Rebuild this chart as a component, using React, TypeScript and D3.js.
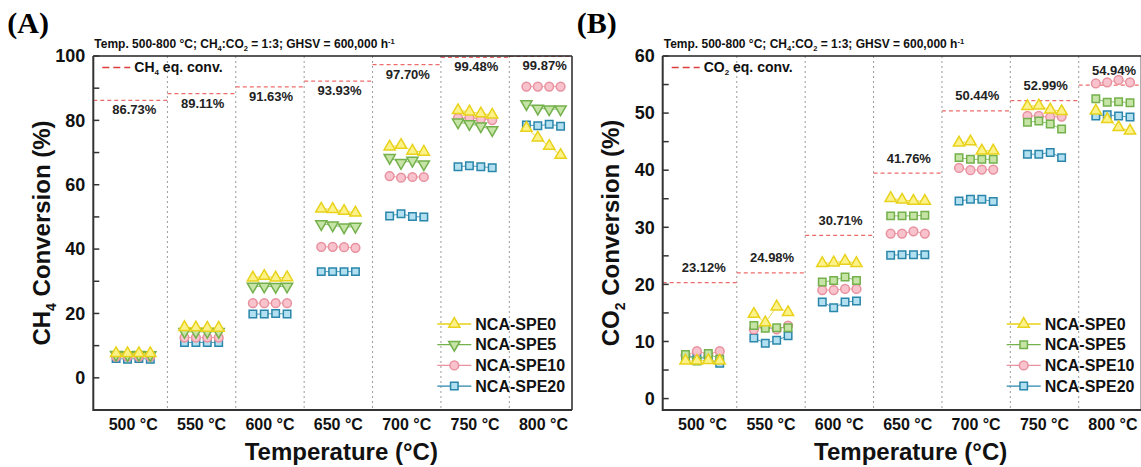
import React from 'react';
import * as d3 from 'd3';

const temps = ['500 °C', '550 °C', '600 °C', '650 °C', '700 °C', '750 °C', '800 °C'];
const seriesNames = ['NCA-SPE0', 'NCA-SPE5', 'NCA-SPE10', 'NCA-SPE20'];

// CH4 conversion, 4 points per temperature
const ch4Spe0 = [
  [7.6, 7.6, 7.6, 7.6], [15.7, 15.6, 15.5, 15.5], [31.1, 31.6, 31.1, 31.2], [52.5, 52.4, 51.8, 51.3],
  [71.8, 72.3, 70.5, 70.2], [83.1, 82.7, 82.1, 81.7], [77.6, 74.6, 72.0, 69.2],
];
const ch4Spe5 = [
  [7.2, 7.1, 7.2, 7.1], [14.3, 14.3, 14.3, 14.3], [28.4, 28.4, 28.3, 28.4], [47.8, 47.4, 46.8, 47.0],
  [68.4, 66.8, 67.5, 66.4], [79.4, 78.9, 78.2, 77.0], [85.1, 83.7, 83.5, 83.5],
];
const ch4Spe10 = [
  [6.6, 6.6, 6.6, 6.6], [12.5, 12.5, 12.5, 12.5], [23.2, 23.2, 23.2, 23.2], [40.7, 40.7, 40.6, 40.4],
  [62.7, 62.2, 62.4, 62.4], [80.8, 80.8, 80.4, 80.1], [90.5, 90.5, 90.5, 90.5],
];
const ch4Spe20 = [
  [6.0, 5.8, 6.0, 5.8], [11.0, 11.0, 11.0, 11.0], [19.8, 19.8, 20.0, 19.8], [33.0, 33.0, 33.0, 33.0],
  [50.3, 51.0, 50.1, 50.0], [65.6, 65.9, 65.6, 65.3], [78.6, 78.3, 78.8, 78.2],
];
const ch4Eq = [86.2, 88.3, 90.4, 92.2, 97.3, 99.6, 99.9];
const ch4EqLabels = ['86.73%', '89.11%', '91.63%', '93.93%', '97.70%', '99.48%', '99.87%'];

// CO2 conversion
const co2Spe0 = [
  [6.6, 6.6, 6.7, 6.6], [14.8, 13.3, 16.1, 15.1], [23.7, 23.8, 24.1, 23.7], [35.1, 34.8, 34.6, 34.6],
  [44.8, 45.0, 43.4, 43.4], [51.2, 51.3, 50.6, 50.3], [50.4, 48.9, 47.5, 46.9],
];
const co2Spe5 = [
  [7.7, 6.6, 7.9, 6.9], [12.8, 12.3, 12.4, 12.4], [20.4, 20.7, 21.3, 20.7], [32.0, 32.0, 32.0, 32.1],
  [42.2, 41.9, 41.9, 41.9], [48.4, 48.6, 48.1, 47.2], [52.5, 51.9, 52.0, 51.8],
];
const co2Spe10 = [
  [7.6, 8.3, 7.8, 8.3], [12.1, 12.6, 12.1, 12.8], [19.0, 19.0, 19.2, 19.2], [28.9, 28.9, 29.3, 28.9],
  [40.4, 40.0, 40.1, 40.1], [49.5, 49.5, 49.3, 49.4], [55.2, 55.4, 55.8, 55.4],
];
const co2Spe20 = [
  [7.4, 7.3, 6.9, 6.2], [10.6, 9.7, 10.2, 11.0], [16.9, 15.9, 16.9, 17.1], [25.1, 25.2, 25.2, 25.2],
  [34.6, 34.9, 34.9, 34.5], [42.8, 42.8, 43.1, 42.2], [49.5, 49.7, 49.5, 49.3],
];
const co2Eq = [20.3, 22.0, 28.6, 39.5, 50.4, 52.2, 54.9];
const co2EqLabels = ['23.12%', '24.98%', '30.71%', '41.76%', '50.44%', '52.99%', '54.94%'];

const FONT = 'Liberation Sans, Arial, sans-serif';
const TOP = 56;
const BOTTOM = 410;
const PANEL_W = 478.7;

const styles = {
  spe0: { fill: '#fdf28a', stroke: '#e8d21a' },
  spe5: { fill: '#c6e4a6', stroke: '#74b04c' },
  spe10: { fill: '#f8c3cc', stroke: '#e8919f' },
  spe20: { fill: '#b3e0f0', stroke: '#2a86ab' },
};

function markerPath(shape) {
  if (shape === 'circle') return d3.symbol().type(d3.symbolCircle).size(60)();
  if (shape === 'square') return d3.symbol().type(d3.symbolSquare).size(56)();
  return d3.symbol().type(d3.symbolTriangle).size(54)();
}

function Marker({ x, y, shape, st }) {
  const rot = shape === 'down' ? ' rotate(180)' : '';
  return (
    <path
      d={markerPath(shape)}
      transform={`translate(${x},${y})${rot}`}
      fill={st.fill}
      stroke={st.stroke}
      strokeWidth={1.5}
    />
  );
}

function Panel({ dx, tag, yDomain, yTicks, yLabelEvery, gas, series, eq, eqLabels, labelAbove }) {
  const x = d3.scaleLinear().domain([-2, 40]).range([dx, dx + PANEL_W]);
  const y = d3.scaleLinear().domain(yDomain).range([BOTTOM, TOP]);
  const idx = (g, k) => g * 6 + k;
  const seps = d3.range(6).map((g) => idx(g, 4.5));

  return (
    <g fontFamily={FONT}>
      <text x={dx - 86} y={33} fontFamily="Liberation Serif, Times New Roman, serif" fontWeight="bold" fontSize={30}>
        {tag}
      </text>
      <text x={dx + 1} y={48} fontSize={12} fontWeight="bold" fill="#111">
        Temp. 500-800 °C; CH<tspan fontSize={7.5} dy={3}>4</tspan>
        <tspan dy={-3}>:CO</tspan><tspan fontSize={7.5} dy={3}>2</tspan>
        <tspan dy={-3}> = 1:3; GHSV = 600,000 h</tspan><tspan fontSize={7.5} dy={-4}>-1</tspan>
      </text>

      {/* separators */}
      {seps.map((s, i) => (
        <line key={i} x1={x(s)} x2={x(s)} y1={TOP} y2={BOTTOM} stroke="#9a9a9a" strokeWidth={1} strokeDasharray="2,3" />
      ))}

      {/* equilibrium lines */}
      {eq.map((v, g) => {
        const a = g === 0 ? -2 : idx(g, -1.5);
        const b = g === 6 ? 40 : idx(g, 4.5);
        return (
          <g key={g}>
            <line x1={x(a)} x2={x(b)} y1={y(v)} y2={y(v)} stroke="#ee6b6b" strokeWidth={1.3} strokeDasharray="4,3" />
            <text
              x={x(idx(g, 1.6))}
              y={labelAbove ? y(v) - 10.5 : y(v) + 14}
              textAnchor="middle"
              fontSize={13}
              fontWeight="bold"
              fill="#222"
            >
              {eqLabels[g]}
            </text>
          </g>
        );
      })}

      {/* frame and axes */}
      <line x1={dx} x2={dx + PANEL_W} y1={TOP} y2={TOP} stroke="#222" strokeWidth={1.6} />
      <line x1={dx + PANEL_W} x2={dx + PANEL_W} y1={TOP} y2={BOTTOM} stroke="#333" strokeWidth={1.6} />
      <line x1={dx} x2={dx} y1={TOP} y2={BOTTOM + 1} stroke="#333" strokeWidth={2} />
      <line x1={dx} x2={dx + PANEL_W} y1={BOTTOM} y2={BOTTOM} stroke="#333" strokeWidth={2} />
      {yTicks.map((t) => (
        <g key={t}>
          <line x1={dx} x2={dx + 6} y1={y(t)} y2={y(t)} stroke="#333" strokeWidth={1.5} />
          {t % yLabelEvery === 0 && (
            <text x={dx - 8} y={y(t)} dy="0.35em" textAnchor="end" fontSize={18} fontWeight="bold" fill="#111">
              {t}
            </text>
          )}
        </g>
      ))}
      {temps.map((t, g) => (
        <text key={t} x={x(idx(g, 1.5))} y={430} textAnchor="middle" fontSize={16} fontWeight="bold" fill="#111">
          {t}
        </text>
      ))}
      <text x={dx + 248} y={460} textAnchor="middle" fontSize={24} fontWeight="bold" fill="#111">
        Temperature (°C)
      </text>
      <text
        transform={`translate(${dx - 52},${(TOP + BOTTOM) / 2}) rotate(-90)`}
        textAnchor="middle"
        dy="0.35em"
        fontSize={24}
        fontWeight="bold"
        fill="#111"
      >
        {gas[0]}<tspan fontSize={14} dy={6}>{gas[1]}</tspan><tspan dy={-6}> Conversion (%)</tspan>
      </text>

      {/* eq legend */}
      <line x1={dx + 9} x2={dx + 37} y1={67.5} y2={67.5} stroke="#e03c3c" strokeWidth={1.3} strokeDasharray="7,4" />
      <text x={dx + 41} y={72} fontSize={14} fontWeight="bold" fill="#111">
        {gas[0]}<tspan fontSize={8} dy={3}>{gas[1]}</tspan><tspan dy={-3}> eq. conv.</tspan>
      </text>

      {/* data */}
      {series
        .slice()
        .reverse()
        .map((s) => (
          <g key={s.name}>
            {s.values.map((grp, g) => {
              const path = d3
                .line<number>()
                .x((_, k) => x(idx(g, k)))
                .y((v) => y(v))(grp);
              return <path key={g} d={path} fill="none" stroke={s.st.stroke} strokeWidth={1} opacity={0.8} />;
            })}
            {s.values.map((grp, g) =>
              grp.map((v, k) => <Marker key={`${g}-${k}`} x={x(idx(g, k))} y={y(v)} shape={s.shape} st={s.st} />)
            )}
          </g>
        ))}

      {/* series legend */}
      {series.map((s, i) => {
        const ly = 324 + i * 20.7;
        const lx = dx + 361;
        return (
          <g key={s.name}>
            <line x1={lx - 17} x2={lx + 17} y1={ly} y2={ly} stroke={s.st.stroke} strokeWidth={1.3} />
            <Marker x={lx} y={ly} shape={s.shape} st={s.st} />
            <text x={lx + 21} y={ly} dy="0.35em" fontSize={16} fontWeight="bold" fill="#111">
              {s.name}
            </text>
          </g>
        );
      })}
    </g>
  );
}

export default function App() {
  const seriesA = [
    { name: seriesNames[0], values: ch4Spe0, shape: 'up', st: styles.spe0 },
    { name: seriesNames[1], values: ch4Spe5, shape: 'down', st: styles.spe5 },
    { name: seriesNames[2], values: ch4Spe10, shape: 'circle', st: styles.spe10 },
    { name: seriesNames[3], values: ch4Spe20, shape: 'square', st: styles.spe20 },
  ];
  const seriesB = [
    { name: seriesNames[0], values: co2Spe0, shape: 'up', st: styles.spe0 },
    { name: seriesNames[1], values: co2Spe5, shape: 'square', st: styles.spe5 },
    { name: seriesNames[2], values: co2Spe10, shape: 'circle', st: styles.spe10 },
    { name: seriesNames[3], values: co2Spe20, shape: 'square', st: styles.spe20 },
  ];
  return (
    <svg width={1141} height={467} style={{ position: 'absolute', left: 0, top: 0, background: '#fff' }}>
      <rect width={1141} height={467} fill="#fff" />
      <Panel
        dx={93.3}
        tag="(A)"
        yDomain={[-10, 100]}
        yTicks={d3.range(0, 101, 10)}
        yLabelEvery={20}
        gas={['CH', '4']}
        series={seriesA}
        eq={ch4Eq}
        eqLabels={ch4EqLabels}
        labelAbove={false}
      />
      <Panel
        dx={662.7}
        tag="(B)"
        yDomain={[-2, 60]}
        yTicks={d3.range(0, 61, 5)}
        yLabelEvery={10}
        gas={['CO', '2']}
        series={seriesB}
        eq={co2Eq}
        eqLabels={co2EqLabels}
        labelAbove={true}
      />
    </svg>
  );
}
